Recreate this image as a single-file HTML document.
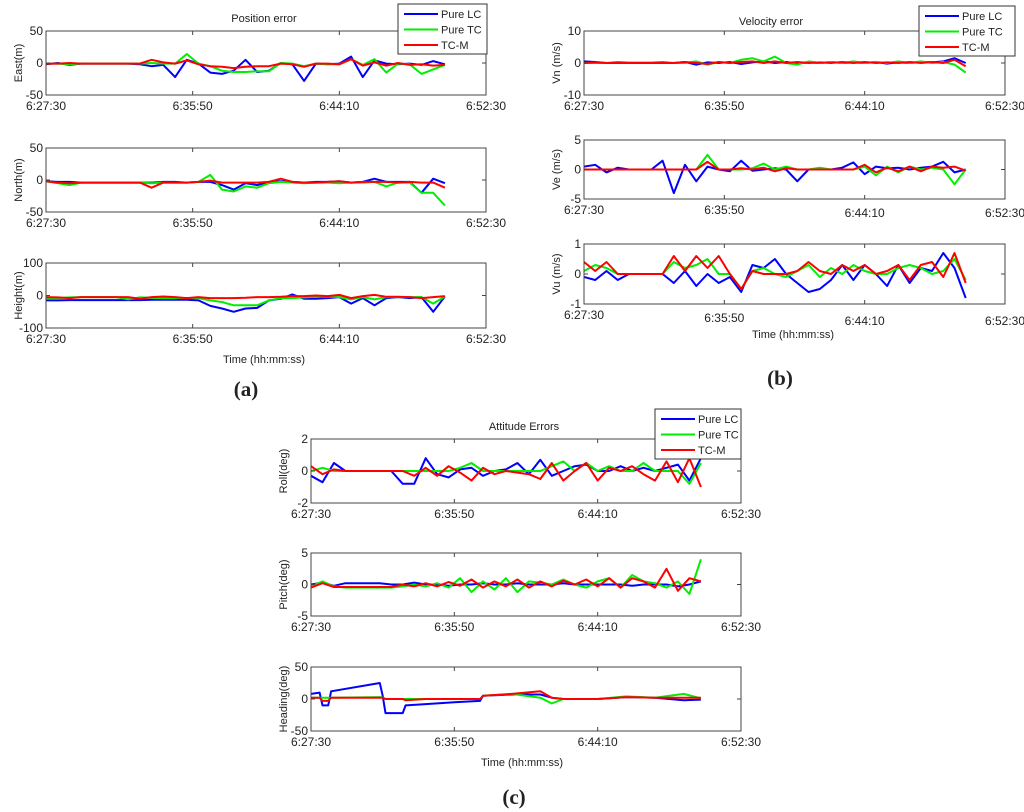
<!DOCTYPE html>
<html><head><meta charset="utf-8"><style>
html,body{margin:0;padding:0;background:#fff;}
svg{display:block;font-family:"Liberation Sans",sans-serif;}
</style></head><body>
<svg id="fig" width="1024" height="812" viewBox="0 0 1024 812" xmlns="http://www.w3.org/2000/svg"></svg>
<script>
// ---- shared time data (seconds from 6:27:30) ----
const tCommon = [0,40,80,120,160,200,240,280,320,360,400,440,480,520,560,600,640,680,720,760,800,840,880,920,960,1000,1040,1080,1120,1160,1200,1240,1280,1320,1360];
const xTickValues = [0,500,1000,1500];
const xTickLabels = ["6:27:30","6:35:50","6:44:10","6:52:30"];
const seriesNames = ["Pure LC","Pure TC","TC-M"];

// East (m)
const eastLC = [-2,0,-3,-1,-1,-1,-1,-1,-2,-5,-3,-22,5,-1,-15,-17,-12,5,-14,-12,0,-2,-28,-1,-2,-1,10,-22,4,-1,-2,-1,-3,3,-2];
const eastTC = [-1,-1,-2,-1,-1,-1,-1,-1,-1,0,-1,-1,14,-1,-5,-12,-14,-14,-13,-13,0,-1,-5,-1,-2,-2,6,-3,6,-15,-1,-2,-17,-10,-3];
const eastM  = [-1,-1,0,-1,-1,-1,-1,-1,-1,5,1,-1,4,-2,-5,-6,-8,-6,-5,-5,-1,-2,-6,-1,-1,-2,6,-4,1,-4,0,-3,-2,-4,-3];
// North (m)
const northLC = [-2,-3,-3,-4,-4,-4,-4,-4,-4,-4,-3,-3,-4,-3,-3,-8,-15,-5,-8,-3,-2,-3,-4,-3,-3,-2,-4,-3,2,-3,-3,-3,-20,2,-5];
const northTC = [-2,-5,-8,-4,-4,-4,-4,-4,-4,-5,-4,-4,-4,-3,8,-15,-18,-10,-12,-5,-3,-4,-5,-4,-4,-5,-4,-4,-3,-10,-4,-4,-20,-20,-40];
const northM  = [-2,-4,-5,-4,-4,-4,-4,-4,-4,-12,-4,-4,-4,-3,-1,-4,-4,-4,-4,-3,2,-3,-4,-4,-3,-2,-4,-3,-3,-3,-4,-3,-4,-4,-12];
// Height (m)
const heightLC = [-15,-15,-14,-14,-14,-14,-14,-14,-14,-13,-13,-13,-13,-15,-32,-40,-50,-40,-38,-15,-10,3,-10,-10,-8,-5,-25,-8,-30,-8,-5,-8,-5,-50,-3];
const heightTC = [-8,-8,-6,-5,-5,-5,-5,-12,-6,-7,-8,-8,-8,-8,-15,-20,-30,-30,-30,-15,-8,-8,-6,-4,-3,-5,-12,-5,-12,-5,-5,-5,-5,-25,-3];
const heightM  = [-5,-6,-8,-5,-5,-5,-5,-5,-10,-5,-3,-5,-8,-5,-8,-8,-8,-7,-5,-5,-4,-2,-2,0,-2,2,-8,-2,2,-4,-4,-5,-8,-5,-2];
// Vn (m/s)
const vnLC = [0.5,0.3,0,0.2,0.1,0.1,0.1,0.2,0,0.3,-0.5,0.2,0,0.3,-0.3,0.2,0.5,0,0.3,-0.2,0.2,0,0.3,0,0.2,0,0.3,-0.2,0.2,0,0.3,0.2,0.5,1.5,0];
const vnTC = [0,0,0,0,0,0,0,0,0,0,0.5,-0.5,0.3,0,1,1.5,0.5,2,0,-0.5,0.5,0,0.3,0,0.5,0,0.3,0,0.5,0,0.5,0,0.3,-0.5,-3];
const vnM  = [0,0.2,0,0,0,0,0,0,0,0.3,0,-0.3,0.3,0,0.3,0.5,0,0.5,0,0.3,0,0.2,0,0.3,0,0.3,0,0.2,0,0.3,0,0.3,0,1,-1];
// Ve (m/s)
const veLC = [0.5,0.8,-0.5,0.3,0,0,0,1.5,-4,0.8,-2,0.5,0,-0.3,1.5,-0.2,0,0.2,0,-2,0,0,0,0.3,1.2,-0.8,0.5,0.2,0.3,0,0.3,0.5,1.3,-0.5,0];
const veTC = [0,0,0,0,0,0,0,0,0,0,0,2.5,0,0,0,0.2,1,0,0.5,0,0,0.3,0,0,0,0.5,-1,0.5,-0.5,0.5,0,0.3,0,-2.5,0];
const veM  = [0,0,0,0,0,0,0,0,0,0,0,1.3,0,0,0.2,0,0.3,-0.3,0.2,0,0,0,0,0,0,0.8,-0.5,0.3,-0.3,0.5,-0.3,0.5,0.3,0.5,-0.2];
// Vu (m/s)
const vuLC = [-0.1,-0.2,0.1,-0.2,0,0,0,0,-0.3,0.1,-0.4,0,-0.3,-0.1,-0.6,0.3,0.2,0.5,0,-0.3,-0.6,-0.5,-0.2,0.3,-0.2,0.3,0,-0.4,0.3,-0.3,0.2,0.1,0.7,0.2,-0.8];
const vuTC = [0.1,0.3,0.2,0,0,0,0,0,0.4,0.2,0.3,0.5,0,0,-0.5,0.1,0.2,0,-0.1,0.1,0.3,-0.1,0.2,0,0.3,0.1,0,0,0.2,0.3,0.2,0,0.1,0.5,-0.2];
const vuM  = [0.4,0.1,0.4,0,0,0,0,0,0.6,0.1,0.6,0.2,0.6,0,-0.5,0.1,0,0,0,0.1,0.4,0.1,0,0.3,0.1,0.3,0,0.1,0.3,-0.2,0.3,0.4,-0.1,0.7,-0.3];
// Roll (deg)
const rollLC = [-0.3,-0.7,0.5,0,0,0,0,0,-0.8,-0.8,0.8,-0.2,-0.4,0.1,0.2,-0.3,0,0.1,0.5,-0.2,0.7,-0.3,0,0.3,0.4,0,0,0.3,0,0.2,0,0.2,0.4,-0.6,0.8];
const rollTC = [0,0.2,0,0,0,0,0,0,0,0,0,0,0,0.2,0.5,0,0,0,0,0,0,0.3,0.6,0,0.5,0,0.3,0,0,0.5,0,0,0,-0.8,0.5];
const rollM  = [0.3,-0.2,0.1,0,0,0,0,0,0,-0.3,0.2,-0.3,0.3,-0.1,-0.6,0.2,-0.2,0,-0.1,-0.2,-0.5,0.5,-0.6,0,0.5,-0.6,0.2,0,0.3,-0.2,-0.6,0.6,-0.7,0.8,-1];
// Pitch (deg)
const pitchLC = [0,0.3,-0.2,0.2,0.2,0.2,0.2,0,0,0.3,0,0,-0.2,0,0,0.2,0,0,0.2,0,0,0,0.2,0,0,0,0,0,-0.2,0,0,0,-0.3,0,0.5];
const pitchTC = [-0.3,0.5,-0.3,-0.5,-0.5,-0.5,-0.5,-0.5,-0.3,0,-0.3,0.2,-0.5,1,-1.2,0.5,-0.8,1,-1.2,0.5,0.3,0,0.8,0,-0.5,0.5,1,-0.5,1.5,0.5,0.2,-0.5,0.5,-1.5,4];
const pitchM  = [-0.5,0.2,-0.4,-0.4,-0.4,-0.4,-0.4,-0.4,0,-0.3,0.2,-0.3,0.4,-0.2,0.8,-0.5,0.5,-0.3,0.8,-0.5,0.5,-0.3,0.6,0,0.8,-0.3,1,-0.5,1,0.5,-0.5,2.5,-1,1,0.5];
// Heading (deg) own time base
const tHeading = [0,30,40,60,70,240,250,260,320,330,400,500,590,600,700,800,840,880,1000,1100,1200,1300,1360];
const headingLC = [8,10,-10,-10,12,25,5,-22,-22,-10,-8,-5,-3,5,7,7,2,0,0,3,2,-2,-1];
const headingTC = [2,2,2,2,2,3,2,0,0,0,0,0,0,5,8,2,-7,0,0,4,2,8,1];
const headingM  = [2,2,-3,-3,2,2,2,0,0,-2,0,0,0,5,8,12,2,0,0,3,2,2,2];

const COLORS = ["#0000ff","#00ee00","#ff0000"];
const NS = "http://www.w3.org/2000/svg";
const svg = document.getElementById("fig");
function el(tag, attrs, parent, text){
  const e = document.createElementNS(NS, tag);
  for (const k in attrs) e.setAttribute(k, attrs[k]);
  if (text !== undefined) e.textContent = text;
  (parent||svg).appendChild(e);
  return e;
}

function subplot(cfg){
  const g = el("g", {}, svg);
  
  
  const L=cfg.x0, R=cfg.x1, T=cfg.y0, B=cfg.y1;
  const xs = t => L + (t/1500)*(R-L);
  const ys = v => B - (v - cfg.ymin)/(cfg.ymax-cfg.ymin)*(B-T);
  const clipId = "clip-"+cfg.name;
  const cp = el("clipPath",{id:clipId},g);
  el("rect",{x:L,y:T,width:R-L,height:B-T},cp);
  // series
  cfg.series.forEach((vals,i)=>{
    const times = cfg.t;
    const d = vals.map((v,j)=>(j?"L":"M")+xs(times[j]).toFixed(1)+","+ys(v).toFixed(1)).join(" ");
    const p = el("path",{d:d,fill:"none",stroke:COLORS[i],"stroke-width":2,"stroke-linejoin":"round","clip-path":"url(#"+clipId+")"},g);
    
    
  });
  // axes box
  const box = el("rect",{x:L,y:T,width:R-L,height:B-T,fill:"none",stroke:"#444","stroke-width":1},g);
  
  
  // x ticks
  xTickValues.forEach((tv,i)=>{
    const x = xs(tv);
    el("line",{x1:x,y1:T,x2:x,y2:T+4,stroke:"#444"},g);
    el("line",{x1:x,y1:B,x2:x,y2:B-4,stroke:"#444"},g);
    const lab = el("text",{x:x,y:B+15+(cfg.stagger?cfg.stagger[i]:0),"font-size":12,"text-anchor":"middle",fill:"#222"},g,xTickLabels[i]);
    
    
  });
  // y ticks
  [cfg.ymax,0,cfg.ymin].forEach(v=>{
    const y = ys(v);
    el("line",{x1:L,y1:y,x2:L+4,y2:y,stroke:"#444"},g);
    el("line",{x1:R,y1:y,x2:R-4,y2:y,stroke:"#444"},g);
    const lab = el("text",{x:L-3,y:y+4,"font-size":12,"text-anchor":"end",fill:"#222"},g,String(v));
    
    
  });
  const yl = el("text",{x:0,y:0,"font-size":11,"text-anchor":"middle",fill:"#222",transform:"translate("+(L-24)+","+((T+B)/2)+") rotate(-90)"},g,cfg.ylabel);
  
  
}

function legend(x,y,w,h,name){
  const g = el("g",{},svg);
  
  
  el("rect",{x:x,y:y,width:w,height:h,fill:"#fff",stroke:"#333","stroke-width":1},g);
  seriesNames.forEach((n,i)=>{
    const yy = y+10+i*15.5;
    el("line",{x1:x+6,y1:yy,x2:x+40,y2:yy,stroke:COLORS[i],"stroke-width":2},g);
    const t = el("text",{x:x+43,y:yy+4,"font-size":11,fill:"#222"},g,n);
    
    
  });
}
function text(x,y,s,size,name,extra){
  const t = el("text",Object.assign({x:x,y:y,"font-size":size,"text-anchor":"middle",fill:"#222"},extra||{}),svg,s);
  
  
}

// Panel (a)
subplot({name:"east",x0:46,x1:486,y0:31,y1:95,ymin:-50,ymax:50,ylabel:"East(m)",t:tCommon,series:[eastLC,eastTC,eastM]});
subplot({name:"north",x0:46,x1:486,y0:148,y1:212,ymin:-50,ymax:50,ylabel:"North(m)",t:tCommon,series:[northLC,northTC,northM]});
subplot({name:"height",x0:46,x1:486,y0:263,y1:328,ymin:-100,ymax:100,ylabel:"Height(m)",t:tCommon,series:[heightLC,heightTC,heightM]});
text(264,22,"Position error",11,"position-error-title");
text(264,363,"Time (hh:mm:ss)",11,"panel-a-x-axis-title");
text(246,396,"(a)",21,"panel-a-label",{"font-family":"Liberation Serif","font-weight":"bold"});
legend(398,4,89,50,"panel-a-legend");

// Panel (b)
subplot({name:"vn",x0:584,x1:1005,y0:31,y1:95,ymin:-10,ymax:10,ylabel:"Vn (m/s)",t:tCommon,series:[vnLC,vnTC,vnM]});
subplot({name:"ve",x0:584,x1:1005,y0:140,y1:199,ymin:-5,ymax:5,ylabel:"Ve (m/s)",t:tCommon,series:[veLC,veTC,veM],stagger:[0,0,3,3]});
subplot({name:"vu",x0:584,x1:1005,y0:244,y1:304,ymin:-1,ymax:1,ylabel:"Vu (m/s)",t:tCommon,series:[vuLC,vuTC,vuM],stagger:[0,3,6,6]});
text(771,25,"Velocity error",11,"velocity-error-title");
text(793,338,"Time (hh:mm:ss)",11,"panel-b-x-axis-title");
text(780,385,"(b)",21,"panel-b-label",{"font-family":"Liberation Serif","font-weight":"bold"});
legend(919,6,96,50,"panel-b-legend");

// Panel (c)
subplot({name:"roll",x0:311,x1:741,y0:439,y1:503,ymin:-2,ymax:2,ylabel:"Roll(deg)",t:tCommon,series:[rollLC,rollTC,rollM]});
subplot({name:"pitch",x0:311,x1:741,y0:553,y1:616,ymin:-5,ymax:5,ylabel:"Pitch(deg)",t:tCommon,series:[pitchLC,pitchTC,pitchM]});
subplot({name:"heading",x0:311,x1:741,y0:667,y1:731,ymin:-50,ymax:50,ylabel:"Heading(deg)",t:tHeading,series:[headingLC,headingTC,headingM]});
text(524,430,"Attitude Errors",11,"attitude-errors-title");
text(522,766,"Time (hh:mm:ss)",11,"panel-c-x-axis-title");
text(514,804,"(c)",21,"panel-c-label",{"font-family":"Liberation Serif","font-weight":"bold"});
legend(655,409,86,50,"panel-c-legend");
</script>
</body></html>
